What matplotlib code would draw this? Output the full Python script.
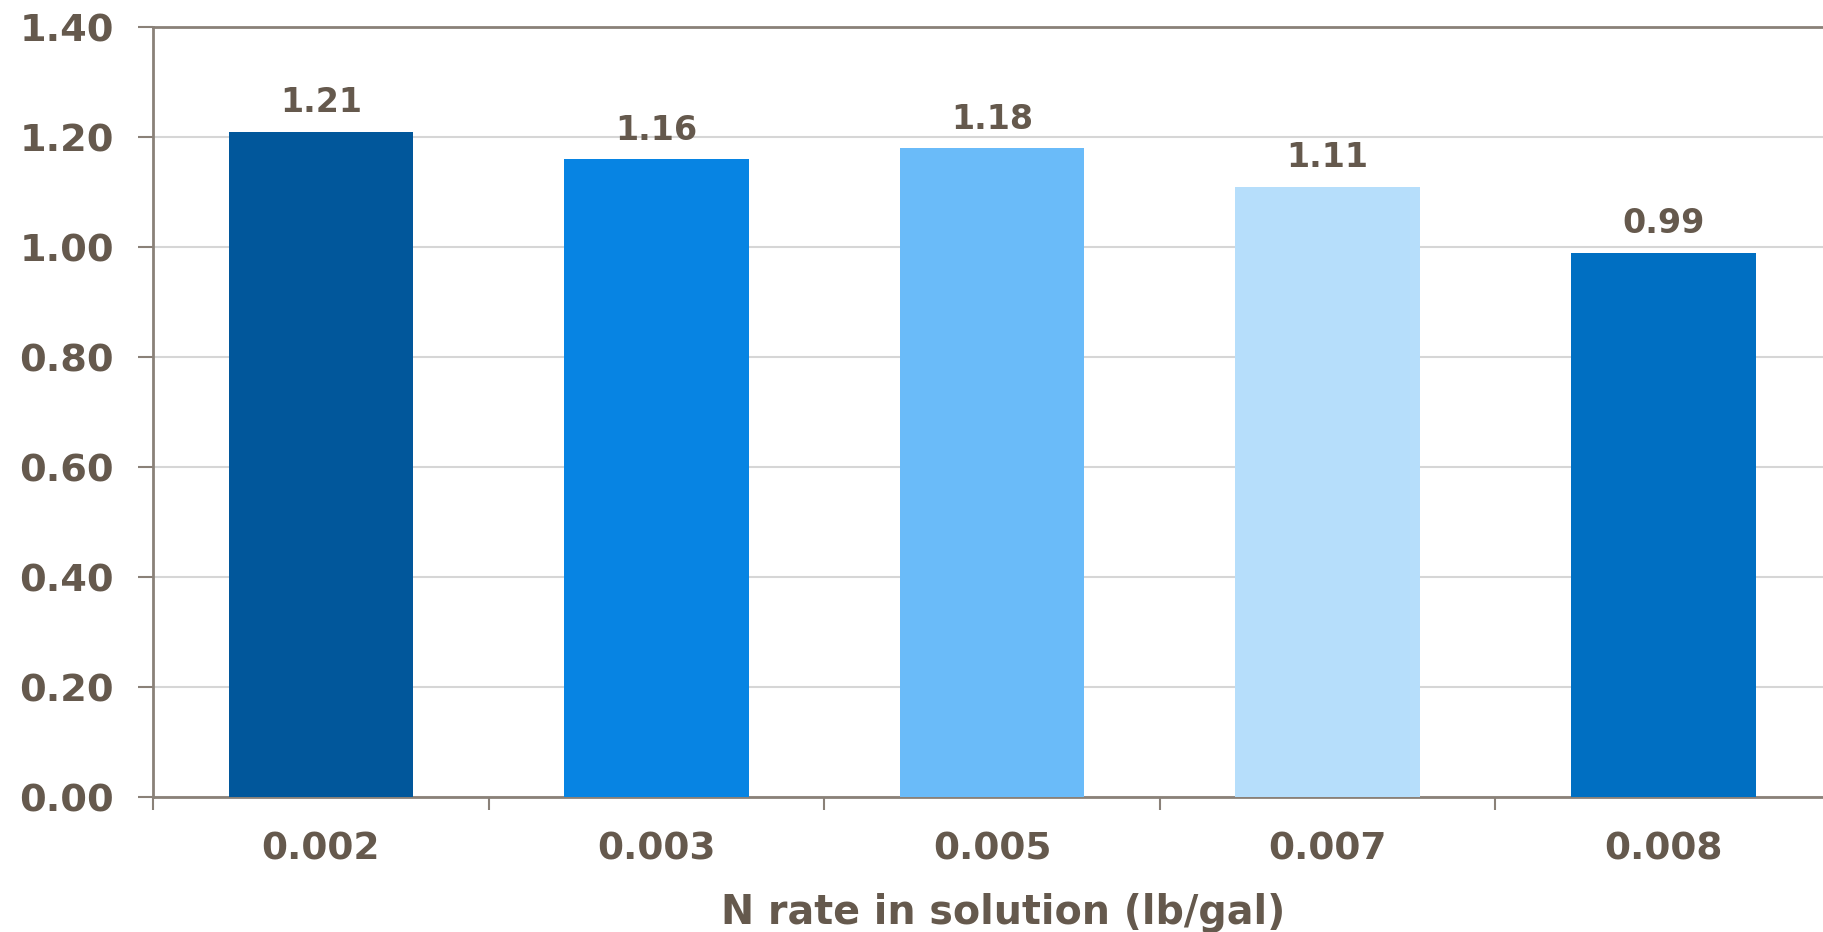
import matplotlib
matplotlib.use("Agg")
import matplotlib.pyplot as plt
from matplotlib.ticker import FixedLocator, FixedFormatter

# N rate categories and measured values
categories = ["0.002", "0.003", "0.005", "0.007", "0.008"]
values = [1.21, 1.16, 1.18, 1.11, 0.99]
bar_colors = ["#01579B", "#0784E3", "#6ABBF9", "#B6DEFB", "#006FC2"]
y_ticks = [0.0, 0.2, 0.4, 0.6, 0.8, 1.0, 1.2, 1.4]
x_label = "N rate in solution (lb/gal)"

text_color = "#65594d"
axis_color = "#8a8178"
grid_color = "#d6d6d6"

plt.rcParams["font.family"] = ["DejaVu Sans"]

fig = plt.figure(figsize=(18.24, 9.32), dpi=100)
ax = fig.add_axes([0.0839, 0.1448, 0.92, 0.826])

x = list(range(len(categories)))
bars = ax.bar(x, values, width=0.55, color=bar_colors, zorder=3)

for xi, v in zip(x, values):
    ax.annotate(f"{v:.2f}", xy=(xi, v), xytext=(0, 9), textcoords="offset points",
                ha="center", va="bottom", fontsize=24, fontweight="bold",
                color=text_color)

ax.set_xlim(-0.5, len(categories) - 0.5)
ax.set_ylim(0, 1.4)

# y axis
ax.set_yticks(y_ticks)
ax.set_yticklabels([f"{t:.2f}" for t in y_ticks], fontsize=27.5, fontweight="bold",
                   color=text_color)
ax.tick_params(axis="y", which="major", direction="out", length=11, width=1.5,
               color=axis_color, pad=17)
ax.yaxis.grid(True, color=grid_color, linewidth=1.5, zorder=0)

# x axis: ticks between categories, labels at centers
ax.xaxis.set_major_locator(FixedLocator([i - 0.5 for i in range(len(categories) + 1)]))
ax.xaxis.set_major_formatter(FixedFormatter([""] * (len(categories) + 1)))
ax.xaxis.set_minor_locator(FixedLocator(x))
ax.xaxis.set_minor_formatter(FixedFormatter(categories))
ax.tick_params(axis="x", which="major", direction="out", length=9, width=1.5,
               color=axis_color)
ax.tick_params(axis="x", which="minor", length=0, pad=25, labelsize=27,
               labelcolor=text_color)
for lbl in ax.get_xticklabels(minor=True):
    lbl.set_fontweight("bold")

ax.set_xlabel(x_label, fontsize=28.5, fontweight="bold", color=text_color, labelpad=18)
ax.xaxis.label.set_x(0.5066)

for side in ["left", "bottom", "top"]:
    ax.spines[side].set_color(axis_color)
    ax.spines[side].set_linewidth(2)
ax.spines["right"].set_visible(False)
ax.set_axisbelow(True)

fig.savefig("out.png", dpi=100, facecolor="white")
